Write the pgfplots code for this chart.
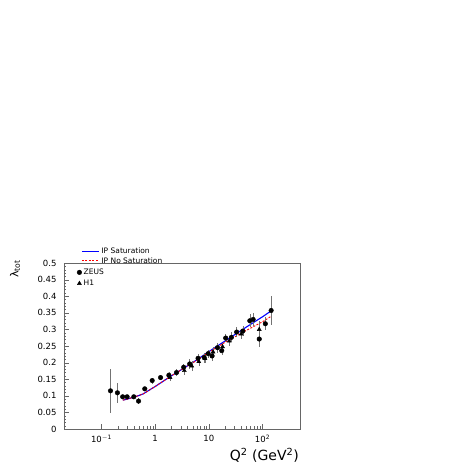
\documentclass[border=0pt]{standalone}
\usepackage{pgfplots}
\pgfplotsset{compat=1.18}
\usepackage{fontspec}
\setmainfont{DejaVu Sans}
\definecolor{ipblue}{RGB}{0,0,255}
\definecolor{ipred}{RGB}{255,0,0}

\pgfplotstableread{
x      y      e
0.147  0.115  0.066
0.198  0.109  0.031
0.248  0.097  0.006
0.30   0.097  0.006
0.40   0.097  0.005
0.49   0.084  0.008
0.64   0.121  0.007
0.88   0.146  0.009
1.26   0.155  0.008
1.8    0.162  0.010
2.5    0.170  0.010
3.4    0.186  0.010
4.4    0.196  0.015
6.3    0.213  0.012
8.2    0.215  0.015
9.7    0.227  0.012
11.5   0.220  0.015
14.5   0.245  0.015
17.4   0.236  0.012
20.6   0.274  0.012
26.3   0.276  0.015
33     0.292  0.015
43     0.295  0.015
58     0.326  0.020
67     0.330  0.020
87     0.271  0.025
113    0.317  0.020
145    0.357  0.045
}\zeus

\pgfplotstableread{
x      y      e
1.9    0.155  0.010
3.5    0.176  0.012
4.8    0.190  0.015
6.5    0.203  0.012
8.5    0.212  0.012
12     0.232  0.015
18     0.248  0.012
24     0.265  0.015
40     0.286  0.015
87     0.300  0.025
}\hone

\begin{document}
\begin{tikzpicture}
\useasboundingbox (0pt,0pt) rectangle (463pt,463pt);
\node[rotate=90, font=\fontsize{11}{12}\selectfont] at (15pt,194pt) {λ\textsubscript{tot}};
\begin{axis}[
  at={(64pt,34pt)}, anchor=south west,
  scale only axis, width=236pt, height=166pt,
  xmode=log, xmin=0.02, xmax=500, ymin=0, ymax=0.5,
  axis line style={black!60},
  tick style={black!60},
  tick align=inside,
  xtick pos=bottom, ytick pos=left,
  major tick length=5pt, minor tick length=2.5pt,
  xtick={0.1,1,10,100},
  xticklabels={10\textsuperscript{$-$1},1,10,10\textsuperscript{2}},
  ytick={0,0.05,0.1,0.15,0.2,0.25,0.3,0.35,0.4,0.45,0.5},
  yticklabels={0,0.05,0.1,0.15,0.2,0.25,0.3,0.35,0.4,0.45,0.5},
  minor y tick num=4,
  tick label style={font=\fontsize{8.5}{9}\selectfont},
  xticklabel style={yshift=-3pt},
  yticklabel style={xshift=-4pt},
  xlabel={Q\textsuperscript{2} (GeV\textsuperscript{2})},
  xlabel style={at={(axis description cs:1.01,-0.16)}, anchor=east, font=\fontsize{14}{15}\selectfont},
  legend style={at={(axis description cs:0.06,1.115)}, anchor=north west, draw=none, fill=none,
    font=\fontsize{7.5}{8}\selectfont, row sep=-2pt},
  legend cell align=left,
]
\addlegendimage{draw=ipblue, line width=1.1pt}
\addlegendentry{IP Saturation}
\addlegendimage{draw=ipred, line width=0.9pt, dash pattern=on 2pt off 1.5pt}
\addlegendentry{IP No Saturation}
\addplot[draw=ipblue, line width=1.1pt, forget plot] coordinates {
  (0.25,0.087) (0.3,0.090) (0.4,0.096) (0.5,0.101) (0.6,0.106)
  (1,0.128) (2,0.160) (5,0.200) (10,0.233) (20,0.265) (50,0.307) (100,0.338) (140,0.354)
};
\addplot[draw=ipred, line width=0.9pt, dash pattern=on 2pt off 1.5pt, forget plot] coordinates {
  (0.25,0.087) (0.3,0.090) (0.4,0.096) (0.5,0.101) (0.6,0.106)
  (1,0.128) (2,0.160) (5,0.199) (10,0.231) (20,0.261) (50,0.297) (100,0.323) (140,0.338)
};
\end{axis}

\begin{axis}[
  at={(64pt,34pt)}, anchor=south west,
  scale only axis, width=236pt, height=166pt,
  xmode=log, xmin=0.02, xmax=500, ymin=0, ymax=0.5,
  hide axis,
  legend style={at={(axis description cs:0.042,0.99)}, anchor=north west, draw=none, fill=none,
    font=\fontsize{7.5}{8}\selectfont, row sep=0pt},
  legend cell align=left,
]
\addplot[only marks, mark=*, mark size=2.3pt, black,
  error bars/.cd, y dir=both, y explicit,
  error bar style={black!55, thin}, error mark=none]
  table[x=x, y=y, y error=e] {\zeus};
\addlegendentry{ZEUS}
\addplot[only marks, mark=triangle*, mark size=2.3pt, black,
  error bars/.cd, y dir=both, y explicit,
  error bar style={black!55, thin}, error mark=none]
  table[x=x, y=y, y error=e] {\hone};
\addlegendentry{H1}
\end{axis}
\end{tikzpicture}
\end{document}
